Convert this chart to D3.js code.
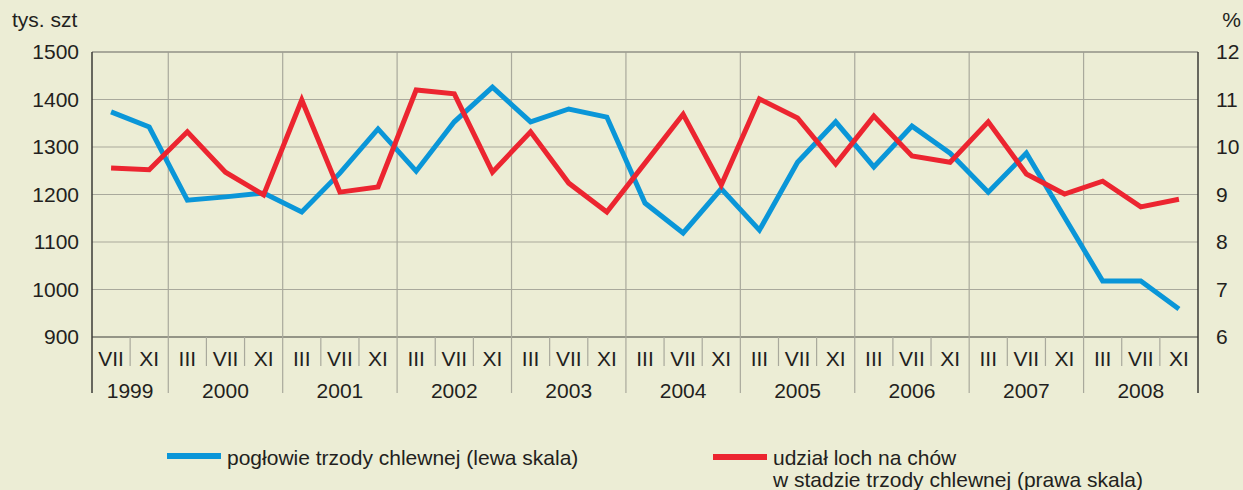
<!DOCTYPE html>
<html>
<head>
<meta charset="utf-8">
<script src="https://cdn.jsdelivr.net/npm/d3@7"></script>
<style>
  body { margin: 0; background: #ecedd5; }
  svg { display: block; font-family: "Liberation Sans", Arial, sans-serif; }
  text { fill: #231f20; }
</style>
</head>
<body>
<div class="chart"></div>
<script>
// months and years along the x axis
const months = ["VII", "XI",
    "III", "VII", "XI", "III", "VII", "XI", "III", "VII", "XI",
    "III", "VII", "XI", "III", "VII", "XI", "III", "VII", "XI",
    "III", "VII", "XI", "III", "VII", "XI", "III", "VII", "XI"];
const years = ["1999", "2000", "2001", "2002", "2003", "2004", "2005", "2006", "2007", "2008"];
const yearSpan = [2, 3, 3, 3, 3, 3, 3, 3, 3, 3];

// pogłowie trzody chlewnej, tys. szt (lewa skala)
const herd = [1374, 1342, 1188, 1195, 1203, 1163, 1245, 1338, 1249, 1353, 1426,
    1353, 1380, 1363, 1182, 1119, 1212, 1125, 1268, 1353, 1258, 1344, 1287,
    1205, 1287, 1152, 1018, 1018, 959];
// udział loch na chów, % (prawa skala)
const sows = [9.56, 9.52, 10.32, 9.47, 8.99, 10.99, 9.05, 9.16, 11.2, 11.12, 9.47,
    10.32, 9.24, 8.63, 9.66, 10.69, 9.2, 11.01, 10.61, 9.64, 10.65, 9.81, 9.68,
    10.53, 9.43, 9.01, 9.28, 8.74, 8.9];

const leftTicks = [900, 1000, 1100, 1200, 1300, 1400, 1500];
const rightTicks = [6, 7, 8, 9, 10, 11, 12];

const width = 1243,
    height = 490,
    margin = { top: 52, right: 45, bottom: 153, left: 92 },
    innerWidth = width - margin.left - margin.right,
    innerHeight = height - margin.top - margin.bottom;

const svg = d3.select(".chart").append("svg")
    .attr("width", width)
    .attr("height", height);

svg.append("rect")
    .attr("width", width)
    .attr("height", height)
    .attr("fill", "#ecedd5");

const g = svg.append("g")
    .attr("transform", "translate(" + margin.left + "," + margin.top + ")");

const xScale = d3.scaleBand()
    .domain(d3.range(months.length))
    .range([0, innerWidth])
    .paddingInner(0).paddingOuter(0);
const yLeft = d3.scaleLinear().domain([900, 1500]).range([innerHeight, 0]);
const yRight = d3.scaleLinear().domain([6, 12]).range([innerHeight, 0]);

const gridColor = "#a9a99c";
const fs = "21px";

// horizontal grid
g.append("g")
    .selectAll("line")
    .data(leftTicks)
    .enter().append("line")
    .attr("x1", 0).attr("x2", innerWidth)
    .attr("y1", d => yLeft(d)).attr("y2", d => yLeft(d))
    .attr("stroke", d => d === 900 ? "#77776c" : gridColor)
    .attr("stroke-width", d => d === 900 ? 1.5 : 1.2);

// year boundaries (in plot and under the axis)
let starts = [];
let acc = 0;
yearSpan.forEach(s => { starts.push(acc); acc += s; });
g.append("g")
    .selectAll("line")
    .data(starts.slice(1))
    .enter().append("line")
    .attr("x1", d => xScale(d)).attr("x2", d => xScale(d))
    .attr("y1", 0).attr("y2", innerHeight + 56)
    .attr("stroke", gridColor)
    .attr("stroke-width", 1.2);

// month separators under the axis
g.append("g")
    .selectAll("line")
    .data(d3.range(1, months.length).filter(i => starts.indexOf(i) < 0))
    .enter().append("line")
    .attr("x1", d => xScale(d)).attr("x2", d => xScale(d))
    .attr("y1", innerHeight).attr("y2", innerHeight + 29)
    .attr("stroke", gridColor)
    .attr("stroke-width", 1.2);

// frame: top border grey, sides dark
g.append("line")
    .attr("x1", 0).attr("x2", innerWidth).attr("y1", 0).attr("y2", 0)
    .attr("stroke", "#9d9d90").attr("stroke-width", 1.5);
g.append("line")
    .attr("x1", 0).attr("x2", 0).attr("y1", 0).attr("y2", innerHeight + 56)
    .attr("stroke", "#3b3a36").attr("stroke-width", 1.5);
g.append("line")
    .attr("x1", innerWidth).attr("x2", innerWidth).attr("y1", 0).attr("y2", innerHeight + 56)
    .attr("stroke", "#3b3a36").attr("stroke-width", 1.5);

// axis labels
g.append("g")
    .selectAll("text")
    .data(leftTicks)
    .enter().append("text")
    .attr("x", -13)
    .attr("y", d => yLeft(d) + 7)
    .attr("text-anchor", "end")
    .style("font-size", fs)
    .text(d => d);

g.append("g")
    .selectAll("text")
    .data(rightTicks)
    .enter().append("text")
    .attr("x", innerWidth + 18)
    .attr("y", d => yRight(d) + 7)
    .attr("text-anchor", "start")
    .style("font-size", fs)
    .text(d => d);

g.append("g")
    .selectAll("text")
    .data(months)
    .enter().append("text")
    .attr("x", (d, i) => xScale(i) + xScale.bandwidth() / 2)
    .attr("y", innerHeight + 29)
    .attr("text-anchor", "middle")
    .style("font-size", fs)
    .text(d => d);

g.append("g")
    .selectAll("text")
    .data(years)
    .enter().append("text")
    .attr("x", (d, i) => xScale(starts[i]) + yearSpan[i] * xScale.bandwidth() / 2)
    .attr("y", innerHeight + 61)
    .attr("text-anchor", "middle")
    .style("font-size", fs)
    .text(d => d);

svg.append("text")
    .attr("x", 12).attr("y", 27)
    .style("font-size", fs)
    .text("tys. szt");
svg.append("text")
    .attr("x", 1241).attr("y", 27)
    .attr("text-anchor", "end")
    .style("font-size", fs)
    .text("%");

// lines
const cx = i => xScale(i) + xScale.bandwidth() / 2;
const lineLeft = d3.line().x((d, i) => cx(i)).y(d => yLeft(d));
const lineRight = d3.line().x((d, i) => cx(i)).y(d => yRight(d));

g.append("path")
    .datum(herd)
    .attr("d", lineLeft)
    .attr("fill", "none")
    .attr("stroke", "#0a96d8")
    .attr("stroke-width", 5);

g.append("path")
    .datum(sows)
    .attr("d", lineRight)
    .attr("fill", "none")
    .attr("stroke", "#ec2530")
    .attr("stroke-width", 5);

// legend
svg.append("line")
    .attr("x1", 167).attr("x2", 221).attr("y1", 456).attr("y2", 456)
    .attr("stroke", "#0a96d8").attr("stroke-width", 6);
svg.append("text")
    .attr("x", 227).attr("y", 465)
    .style("font-size", fs)
    .text("pogłowie trzody chlewnej (lewa skala)");

svg.append("line")
    .attr("x1", 713).attr("x2", 767).attr("y1", 457).attr("y2", 457)
    .attr("stroke", "#ec2530").attr("stroke-width", 6);
const lt = svg.append("text")
    .attr("x", 773).attr("y", 465)
    .style("font-size", fs);
lt.append("tspan").attr("x", 773).text("udział loch na chów");
lt.append("tspan").attr("x", 773).attr("dy", 22).text("w stadzie trzody chlewnej (prawa skala)");
</script>
</body>
</html>
